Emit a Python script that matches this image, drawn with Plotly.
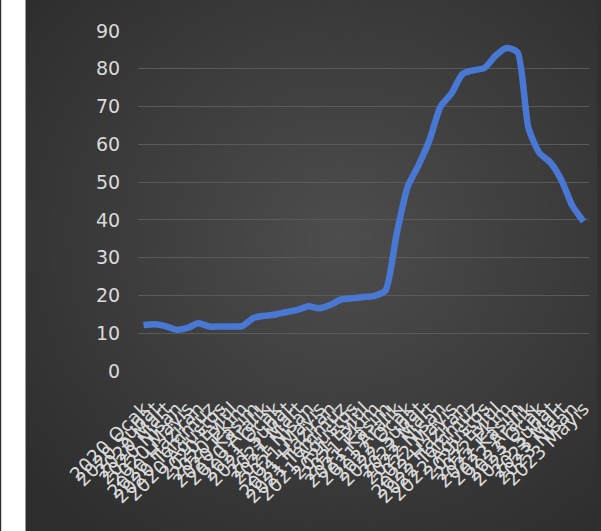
import base64
import plotly.graph_objects as go

# Monthly annual CPI change (%), Jan 2020 - May 2023
years = [2020] * 12 + [2021] * 12 + [2022] * 12 + [2023] * 5
month_names = ["Ocak", "Şubat", "Mart", "Nisan", "Mayıs", "Haziran",
               "Temmuz", "Ağustos", "Eylül", "Ekim", "Kasım", "Aralık"]
months = (month_names * 4)[:41]
categories = [f"{y} {m}" for y, m in zip(years, months)]
values = [12.15, 12.37, 11.86, 10.94, 11.39, 12.62, 11.76, 11.77, 11.75, 11.89, 14.03, 14.60,
          14.97, 15.61, 16.19, 17.14, 16.59, 17.53, 18.95, 19.25, 19.58, 19.89, 21.31, 36.08,
          48.69, 54.44, 61.14, 69.97, 73.50, 78.62, 79.60, 80.21, 83.45, 85.51, 84.39, 64.27,
          57.68, 55.18, 50.51, 43.68, 39.59]
y_ticks = [0, 10, 20, 30, 40, 50, 60, 70, 80, 90]

W, H = 601, 531
ML, MR, MT, MB = 138, 8, 31, 160
pw, ph = W - ML - MR, H - MT - MB

def px_x(p):
    return (p - ML) / pw

def px_y(p):
    return (H - MB - p) / ph

# radial gradient backdrop for the dark chart panel
svg = ("<svg xmlns='http://www.w3.org/2000/svg' width='576' height='531' preserveAspectRatio='none'>"
       "<defs><radialGradient id='g' cx='0.55' cy='0.45' r='0.72'>"
       "<stop offset='0' stop-color='#4d4d4d'/><stop offset='1' stop-color='#2d2d2d'/>"
       "</radialGradient></defs><rect width='576' height='531' fill='url(#g)'/></svg>")
bg_uri = "data:image/svg+xml;base64," + base64.b64encode(svg.encode()).decode()

fig = go.Figure()
fig.add_trace(go.Scatter(
    x=categories, y=values, mode="lines",
    line=dict(color="#4878d4", width=6.5, shape="spline", smoothing=0.6),
    hoverinfo="x+y",
))

font_col = "#dadada"
fig.update_layout(
    width=W, height=H,
    margin=dict(l=ML, r=MR, t=MT, b=MB),
    paper_bgcolor="#303030",
    plot_bgcolor="rgba(0,0,0,0)",
    showlegend=False,
    font=dict(family="DejaVu Sans", color=font_col, size=19),
    xaxis=dict(
        type="category", range=[-0.5, 40.5], tickmode="array",
        tickvals=categories, ticktext=categories, tickangle=-45,
        showgrid=False, zeroline=False, showline=False,
        ticks="outside", ticklen=18, tickcolor="rgba(0,0,0,0)",
        tickfont=dict(size=19, color=font_col),
    ),
    yaxis=dict(
        range=[0, 90], tickmode="array", tickvals=y_ticks,
        showgrid=True, gridcolor="#5a5a5a", gridwidth=1,
        zeroline=False, showline=False,
        ticks="outside", ticklen=13, tickcolor="rgba(0,0,0,0)",
        tickfont=dict(size=19, color=font_col),
    ),
    images=[dict(
        source=bg_uri, xref="paper", yref="paper",
        x=px_x(25), y=px_y(0), sizex=px_x(W) - px_x(25), sizey=px_y(0) - px_y(H),
        xanchor="left", yanchor="top", sizing="stretch", layer="below",
    )],
    shapes=[
        dict(type="rect", xref="paper", yref="paper", layer="below",
             x0=px_x(0), x1=px_x(24), y0=px_y(H), y1=px_y(0),
             fillcolor="white", line=dict(width=0)),
        dict(type="line", xref="paper", yref="paper", layer="below",
             x0=px_x(24.5), x1=px_x(24.5), y0=px_y(H), y1=px_y(0),
             line=dict(color="#9a9a9a", width=1)),
    ],
)

fig.write_html("out.html")
